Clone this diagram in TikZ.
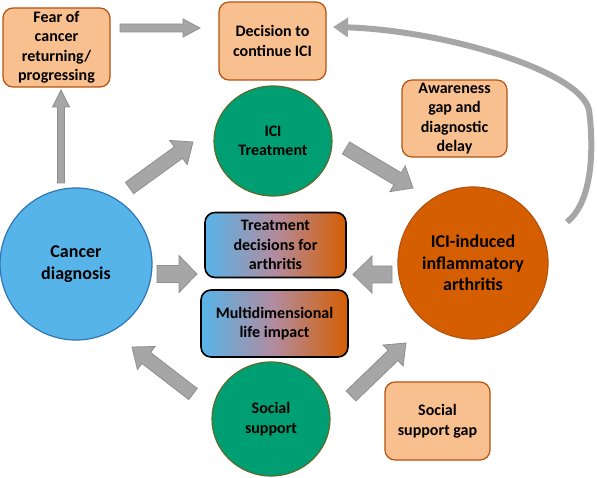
\documentclass[tikz,border=0pt]{standalone}
\usepackage{fontspec}
\setmainfont{Carlito}
\usetikzlibrary{shapes.geometric,arrows.meta,calc}
\definecolor{skyb}{HTML}{56B4E9}
\definecolor{skybd}{HTML}{2E75B6}
\definecolor{grn}{HTML}{009E73}
\definecolor{grnd}{HTML}{5B6B2A}
\definecolor{orng}{HTML}{D55E00}
\definecolor{orngd}{HTML}{B55210}
\definecolor{peach}{HTML}{F9C08F}
\definecolor{arrg}{HTML}{A6A6A6}
\definecolor{arrgd}{HTML}{8F8F8F}
\definecolor{mauve}{HTML}{B38B9E}
% #1 tail, #2 tip, #3 half shaft, #4 half head, #5 head length
\newcommand\blockarrow[5]{%
  \coordinate (ba-h) at ($(#2)!#5!(#1)$);
  \draw[blockarr] ($(#1)!#3!90:(#2)$) -- ($(ba-h)!#3!90:(#2)$) -- ($(ba-h)!#4!90:(#2)$) -- (#2)
    -- ($(ba-h)!#4!-90:(#2)$) -- ($(ba-h)!#3!-90:(#2)$) -- ($(#1)!#3!-90:(#2)$) -- cycle;
}
\begin{document}
\begin{tikzpicture}[x=1pt,y=-1pt,
  font=\bfseries\fontsize{16}{19.5}\selectfont,
  peachbox/.style={rectangle, rounded corners=10pt, draw=orngd, line width=1.2pt, fill=peach, align=center, inner sep=2pt},
  gradbox/.style={rectangle, rounded corners=10pt, draw=black, line width=1.6pt, left color=skyb, right color=orng, middle color=mauve, align=center, inner sep=2pt},
  bigcirc/.style={ellipse, align=center, inner sep=0pt, line width=1.2pt},
  blockarr/.style={fill=arrg, draw=arrgd, line width=0.8pt, line join=miter},
  curvearr/.style={draw=arrg, line width=6pt, -{Triangle[length=15pt,width=19pt]}}
]
\useasboundingbox (0,0) rectangle (597,478);

% boxes
\node[peachbox, minimum width=107pt, minimum height=79pt] (fear) at (56.5,47.5) {Fear of\\cancer\\returning/\\progressing};
\node[peachbox, minimum width=107pt, minimum height=78pt] (dec) at (272.5,41) {Decision to\\continue ICI};
\node[peachbox, minimum width=105pt, minimum height=77pt] (aware) at (454.5,118.5) {Awareness\\gap and\\diagnostic\\delay};
\node[peachbox, minimum width=105pt, minimum height=78pt] (gap) at (437.5,421) {Social\\support gap};

\node[gradbox, minimum width=141pt, minimum height=65pt] (tdec) at (275.5,245) {Treatment\\decisions for\\arthritis};
\node[gradbox, minimum width=147pt, minimum height=67pt] (multi) at (274.5,323.5) {Multidimensional\\life impact};

% circles
\node[bigcirc, fill=grn, draw=grnd, minimum width=118pt, minimum height=110pt] (ici) at (273,141) {ICI\\Treatment};
\node[bigcirc, fill=skyb, draw=skybd, minimum width=152pt, minimum height=152pt,
      font=\bfseries\fontsize{18}{22}\selectfont] (cancer) at (76,264) {Cancer\\diagnosis};
\node[bigcirc, fill=orng, draw=orngd, minimum width=150pt, minimum height=152pt,
      font=\bfseries\fontsize{18}{21.5}\selectfont] (arth) at (473,263) {ICI-induced\\inflammatory\\arthritis};
\node[bigcirc, fill=grn, draw=grnd, minimum width=118pt, minimum height=114pt] (social) at (271,419) {Social\\support};

% block arrow end points
\coordinate (a1t) at (61,183);   \coordinate (a1h) at (61,90);
\coordinate (a2t) at (120,28);   \coordinate (a2h) at (200,28);
\coordinate (a3t) at (129.5,188);\coordinate (a3h) at (193,142);
\coordinate (a4t) at (346,148);  \coordinate (a4h) at (413,188);
\coordinate (a5t) at (157,274);  \coordinate (a5h) at (197,274);
\coordinate (a6t) at (392,274.5);\coordinate (a6h) at (353,274.5);
\coordinate (a7t) at (193,394);  \coordinate (a7h) at (132,347);
\coordinate (a8t) at (351,396);  \coordinate (a8h) at (406,343);

\blockarrow{a1t}{a1h}{3.5pt}{8.5pt}{17pt}
\blockarrow{a2t}{a2h}{4pt}{9pt}{17pt}
\blockarrow{a3t}{a3h}{7pt}{15pt}{18pt}
\blockarrow{a4t}{a4h}{7pt}{15pt}{18pt}
\blockarrow{a5t}{a5h}{8.5pt}{18.5pt}{18pt}
\blockarrow{a6t}{a6h}{8.5pt}{18.5pt}{19pt}
\blockarrow{a7t}{a7h}{7pt}{14.5pt}{18pt}
\blockarrow{a8t}{a8h}{7pt}{14.5pt}{18pt}

% curved feedback arrow
\coordinate (cs) at (567,222);
\coordinate (cm) at (589,110);
\coordinate (ce) at (333,27);
\draw[curvearr] (cs) .. controls (595,200) and (593,140) .. (cm)
  .. controls (580,70) and (440,30) .. (ce);
\end{tikzpicture}
\end{document}
